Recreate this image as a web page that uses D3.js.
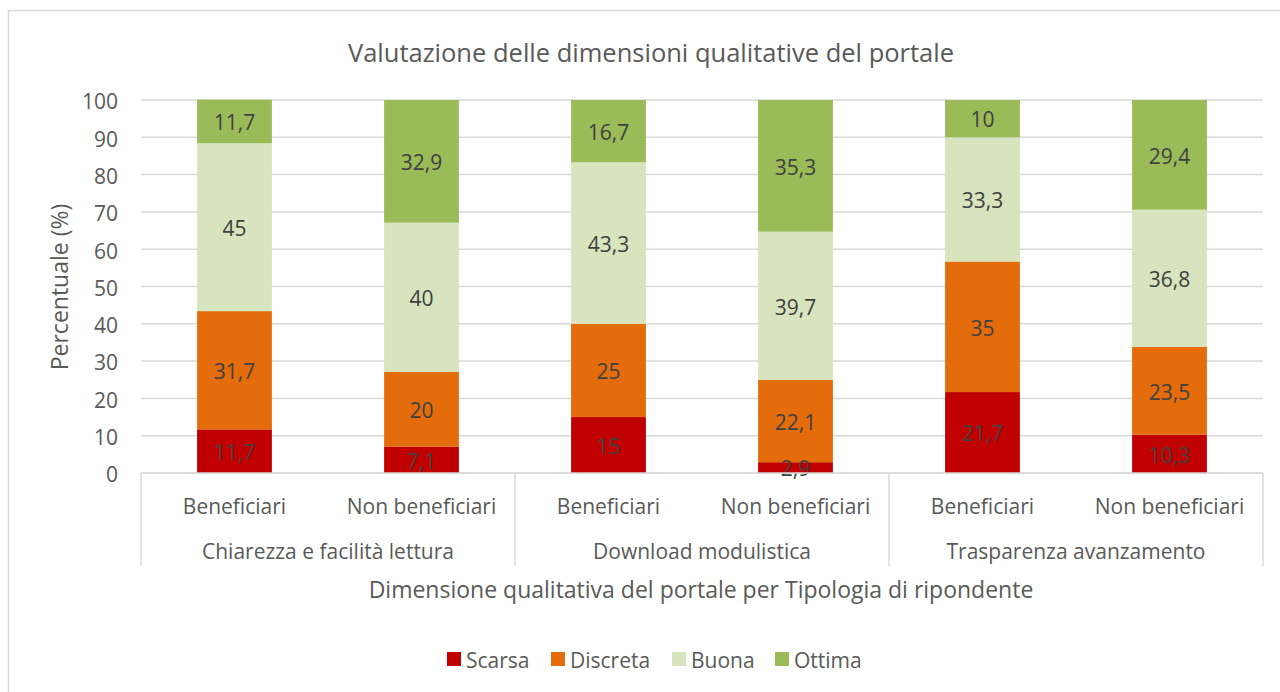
<!DOCTYPE html>
<html>
<head>
<meta charset="utf-8">
<script src="https://cdn.jsdelivr.net/npm/d3@7"></script>
<style>
  body { margin: 0; background: #fff; }
  svg text { font-family: "Open Sans", sans-serif; }
</style>
</head>
<body>
<script>
// ---- data ----
var groups   = ["Chiarezza e facilità lettura", "Download modulistica", "Trasparenza avanzamento"]
  , subjects = ["Beneficiari", "Non beneficiari"]
  , series   = ["Scarsa", "Discreta", "Buona", "Ottima"]
  , colors   = ["#c00000", "#e46c0a", "#d7e4bd", "#9bbb59"]
  , scarsa   = [11.7, 7.1, 15, 2.9, 21.7, 10.3]
  , discreta = [31.7, 20, 25, 22.1, 35, 23.5]
  , buona    = [45, 40, 43.3, 39.7, 33.3, 36.8]
  , ottima   = [11.7, 32.9, 16.7, 35.3, 10, 29.4]
  , yTicks   = [0, 10, 20, 30, 40, 50, 60, 70, 80, 90, 100]

var W = 1280, H = 692
  , m = {left: 141, right: 1263, top: 100, bottom: 473}
  , fs = 21
  , dy = "0.42em"

var svg = d3.select("body").append("svg").attr("width", W).attr("height", H)

// chart border
svg.append("rect").attr("x", 8.5).attr("y", 10.5).attr("width", 1290).attr("height", 700)
	.attr("fill", "#fff").attr("stroke", "#d9d9d9").attr("stroke-width", 1.5)

// rows for stacking
var keys = []
groups.forEach(function(g){ subjects.forEach(function(s){ keys.push(g + "|" + s) }) })
var rows = keys.map(function(k, i){
	return {key: k, Scarsa: scarsa[i], Discreta: discreta[i], Buona: buona[i], Ottima: ottima[i]}
})
var stacked = d3.stack().keys(series)(rows)

var x = d3.scaleBand().domain(keys).range([m.left, m.right]).paddingInner(0.6).paddingOuter(0.3)
var y = d3.scaleLinear().domain([0, 100]).range([m.bottom, m.top])

// gridlines
svg.append("g").selectAll("line").data(yTicks).join("line")
	.attr("x1", m.left).attr("x2", m.right)
	.attr("y1", function(d){ return y(d) }).attr("y2", function(d){ return y(d) })
	.attr("stroke", "#d9d9d9").attr("stroke-width", 1.5)

// y axis labels
var yAxis = svg.append("g").attr("transform", "translate(" + (m.left - 23) + ",0)")
	.call(d3.axisLeft(y).tickValues(yTicks).tickSize(0).tickPadding(0))
yAxis.select(".domain").remove()
yAxis.selectAll("text").attr("font-size", fs).attr("fill", "#595959").attr("dy", dy)
	.style("font-family", "'Open Sans', sans-serif")

// bars
var layer = svg.append("g").selectAll("g").data(stacked).join("g")
	.attr("fill", function(d, i){ return colors[i] })
layer.selectAll("rect").data(function(d){ return d }).join("rect")
	.attr("x", function(d){ return x(d.data.key) })
	.attr("width", x.bandwidth())
	.attr("y", function(d){ return y(d[1]) })
	.attr("height", function(d){ return y(d[0]) - y(d[1]) })

// data labels
svg.append("g").selectAll("g").data(stacked).join("g")
	.selectAll("text").data(function(d){ return d.map(function(p){ p.series = d.key; return p }) }).join("text")
	.attr("x", function(d){ return x(d.data.key) + x.bandwidth() / 2 })
	.attr("y", function(d){ return (y(d[0]) + y(d[1])) / 2 })
	.attr("dy", dy).attr("text-anchor", "middle")
	.attr("font-size", fs).attr("fill", "#404040")
	.text(function(d){ return String(d.data[d.series]).replace(".", ",") })

// category axis
svg.append("line").attr("x1", m.left).attr("x2", m.right).attr("y1", m.bottom).attr("y2", m.bottom)
	.attr("stroke", "#d9d9d9").attr("stroke-width", 1.5)
var seps = d3.range(groups.length + 1).map(function(i){ return m.left + i * (m.right - m.left) / groups.length })
svg.append("g").selectAll("line").data(seps).join("line")
	.attr("x1", function(d){ return d }).attr("x2", function(d){ return d })
	.attr("y1", m.bottom).attr("y2", 566)
	.attr("stroke", "#d9d9d9").attr("stroke-width", 1.5)

svg.append("g").selectAll("text").data(keys).join("text")
	.attr("x", function(d){ return x(d) + x.bandwidth() / 2 })
	.attr("y", 505).attr("dy", dy).attr("text-anchor", "middle")
	.attr("font-size", fs).attr("fill", "#595959")
	.text(function(d){ return d.split("|")[1] })

svg.append("g").selectAll("text").data(groups).join("text")
	.attr("x", function(d, i){ return (seps[i] + seps[i + 1]) / 2 })
	.attr("y", 550).attr("dy", dy).attr("text-anchor", "middle")
	.attr("font-size", fs).attr("fill", "#595959")
	.text(function(d){ return d })

// titles
svg.append("text").attr("x", 651).attr("y", 51).attr("dy", dy).attr("text-anchor", "middle")
	.attr("font-size", 25.5).attr("fill", "#595959")
	.text("Valutazione delle dimensioni qualitative del portale")

svg.append("text").attr("x", 701).attr("y", 588).attr("dy", dy).attr("text-anchor", "middle")
	.attr("font-size", 23).attr("fill", "#595959")
	.text("Dimensione qualitativa del portale per Tipologia di ripondente")

svg.append("text").attr("transform", "translate(60,287) rotate(-90)").attr("dy", "0.35em")
	.attr("text-anchor", "middle").attr("font-size", 23).attr("fill", "#595959")
	.text("Percentuale (%)")

// legend
var legX = [447, 551, 672, 775]
var leg = svg.append("g").selectAll("g").data(series).join("g")
	.attr("transform", function(d, i){ return "translate(" + legX[i] + ",659)" })
leg.append("rect").attr("x", 0).attr("y", -7).attr("width", 14).attr("height", 14)
	.attr("fill", function(d, i){ return colors[i] })
leg.append("text").attr("x", 19).attr("dy", dy).attr("font-size", fs).attr("fill", "#595959")
	.text(function(d){ return d })
</script>
</body>
</html>
